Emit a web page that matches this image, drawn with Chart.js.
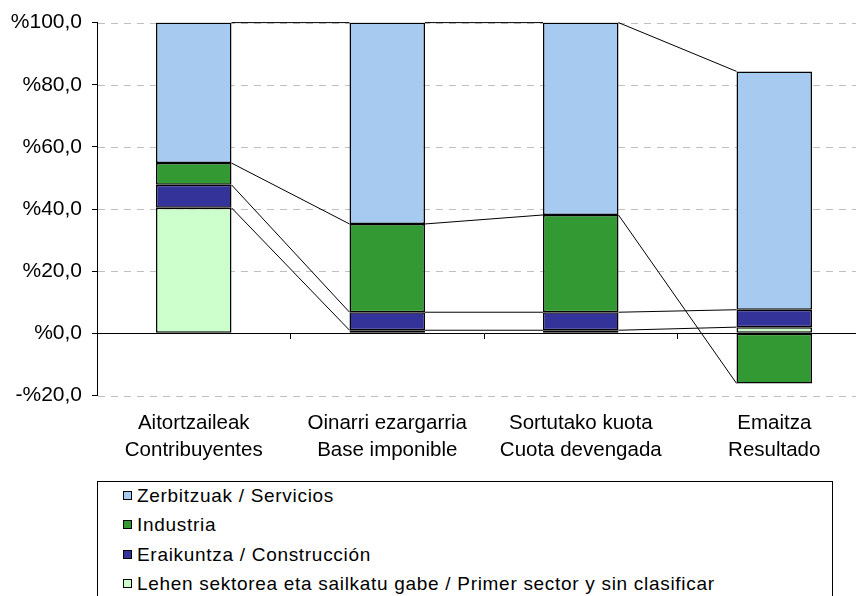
<!DOCTYPE html>
<html>
<head>
<meta charset="utf-8">
<script src="https://cdn.jsdelivr.net/npm/chart.js@4/dist/chart.umd.min.js"></script>
<style>
  html, body { margin: 0; padding: 0; background: #fff; overflow: hidden; width: 856px; height: 596px; }
  #wrap { position: absolute; left: 0; top: 0; width: 880px; height: 470px; }
  #legend { position: absolute; left: 97px; top: 481px; width: 736px; height: 140px;
            border: 1px solid #000; box-sizing: border-box; font-family: "Liberation Sans", Arial, sans-serif;
            font-size: 19px; letter-spacing: 0.7px; color: #000; }
  .item { position: absolute; left: 25px; height: 22px; line-height: 22px; white-space: nowrap; }
  .sw { display: inline-block; width: 7px; height: 7px; border: 1px solid #000; margin-right: 5px; vertical-align: 2px; }
</style>
</head>
<body>
<div id="wrap"><canvas id="c" width="880" height="470"></canvas></div>
<div id="legend"></div>
<script>
const categories = [
  ["Aitortzaileak", "Contribuyentes"],
  ["Oinarri ezargarria", "Base imponible"],
  ["Sortutako kuota", "Cuota devengada"],
  ["Emaitza", "Resultado"]
];
const seriesNames = [
  "Lehen sektorea eta sailkatu gabe / Primer sector y sin clasificar",
  "Eraikuntza / Construcción",
  "Industria",
  "Zerbitzuak / Servicios"
];
const primerSector = [40.4, 1.0, 1.0, 2.0];
const construccion = [7.4, 5.8, 5.8, 5.6];
const industria = [7.0, 28.4, 31.3, -16.1];
const servicios = [45.2, 64.8, 61.9, 76.7];
const yTicks = [-20, 0, 20, 40, 60, 80, 100];

const colors = ["#CCFFCC", "#333399", "#339933", "#A6CAF0"];
const values = [primerSector, construccion, industria, servicios];

const FONT = "'Liberation Sans', Arial, sans-serif";

const dashedGrid = {
  id: 'dashedGrid',
  beforeDatasetsDraw(chart) {
    const ctx = chart.ctx, y = chart.scales.y, area = chart.chartArea;
    ctx.save();
    ctx.strokeStyle = '#c0c0c0';
    ctx.lineWidth = 1;
    ctx.setLineDash([7, 6]);
    y.ticks.forEach(t => {
      if (t.value === 0) return;
      const py = Math.round(y.getPixelForValue(t.value)) + 0.5;
      ctx.beginPath();
      ctx.moveTo(area.left + 1, py);
      ctx.lineTo(area.right, py);
      ctx.stroke();
    });
    ctx.restore();
  }
};

const seriesLines = {
  id: 'seriesLines',
  afterDatasetsDraw(chart) {
    const ctx = chart.ctx;
    ctx.save();
    ctx.strokeStyle = '#000';
    ctx.lineWidth = 1;
    chart.data.datasets.forEach((ds, d) => {
      const meta = chart.getDatasetMeta(d);
      for (let i = 0; i < meta.data.length - 1; i++) {
        const a = meta.data[i], b = meta.data[i + 1];
        ctx.beginPath();
        ctx.moveTo(a.x + a.width / 2, a.y);
        ctx.lineTo(b.x - b.width / 2, b.y);
        ctx.stroke();
      }
    });
    ctx.restore();
  }
};

const chart = new Chart(document.getElementById('c'), {
  type: 'bar',
  data: {
    labels: categories,
    datasets: values.map((v, i) => ({
      label: seriesNames[i],
      data: v,
      backgroundColor: colors[i],
      borderColor: '#000',
      borderWidth: 1.5,
      borderSkipped: false,
      barPercentage: 0.39,
      categoryPercentage: 1.0
    }))
  },
  options: {
    responsive: false,
    animation: false,
    events: [],
    layout: { padding: { top: 20, right: 9, left: 0, bottom: 0 } },
    plugins: { legend: { display: false }, tooltip: { enabled: false } },
    scales: {
      x: {
        stacked: true,
        offset: true,
        grid: { display: false, drawTicks: false },
        border: { display: false },
        ticks: { color: '#000', font: { family: FONT, size: 20.5, lineHeight: 1.32 }, padding: 14, maxRotation: 0, autoSkip: false },
        afterFit(scale) { scale.height = 74.5; }
      },
      x2: {
        type: 'category',
        labels: categories,
        position: { y: 0 },
        offset: true,
        grid: { display: true, drawOnChartArea: false, offset: true, tickLength: 5, color: '#000', tickColor: '#000' },
        border: { display: true, color: '#000', width: 1 },
        ticks: { display: false }
      },
      y: {
        stacked: true,
        min: -20,
        max: 100,
        afterBuildTicks(scale) { scale.ticks = yTicks.map(v => ({ value: v })); },
        grid: { drawOnChartArea: false, color: '#000', tickColor: '#000', tickLength: 5 },
        border: { display: true, color: '#000', width: 1 },
        ticks: {
          color: '#000', padding: 10,
          font: { family: FONT, size: 21 },
          callback: v => (v < 0 ? '-' : '') + '%' + Math.abs(v).toFixed(1).replace('.', ',')
        },
        afterFit(scale) { scale.width = 97; }
      }
    }
  },
  plugins: [dashedGrid, seriesLines]
});

// HTML legend built from dataset labels (reverse order, as in the reference)
const legend = document.getElementById('legend');
const order = [3, 2, 1, 0];
const tops = [3, 32, 62, 91];
order.forEach((d, k) => {
  const it = document.createElement('div');
  it.className = 'item';
  it.style.top = tops[k] + 'px';
  const sw = document.createElement('span');
  sw.className = 'sw';
  sw.style.background = colors[d];
  it.appendChild(sw);
  it.appendChild(document.createTextNode(seriesNames[d]));
  legend.appendChild(it);
});
</script>
</body>
</html>
